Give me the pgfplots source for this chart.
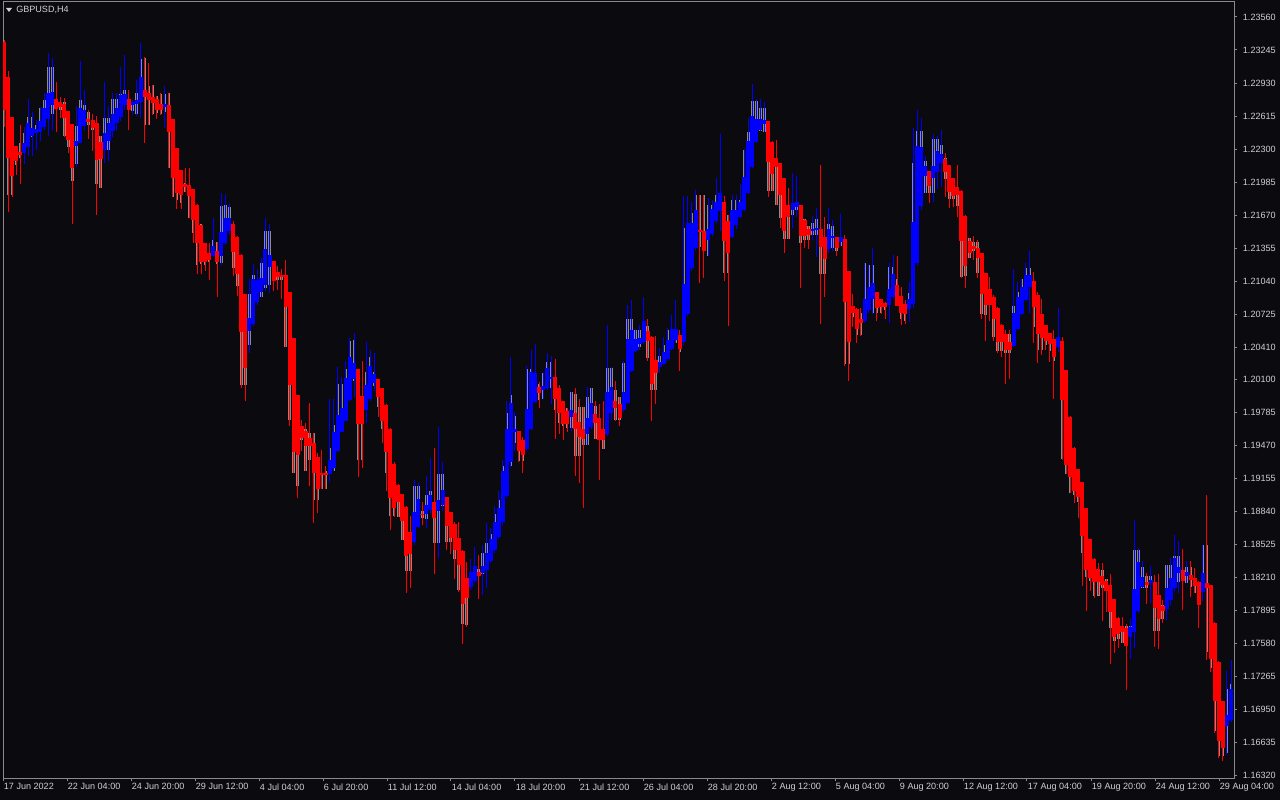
\documentclass[border=0pt]{standalone}
\usepackage{fontspec}
\setmainfont{Liberation Sans}
\usepackage{pgfplots}
\usepackage{pgfplotstable}
\pgfplotsset{compat=1.18}
\definecolor{bg}{HTML}{0B0B0F}
\definecolor{haR}{HTML}{FF0000}
\definecolor{haB}{HTML}{0000FF}
\definecolor{cndl}{HTML}{8C8C8C}
\definecolor{frm}{HTML}{8A8A8A}
\definecolor{txt}{HTML}{D0D0D0}

% k = bar index, o/c = Heiken Ashi open/close, hi/lo = bar high/low, gh/gl = candle body top/bottom
\pgfplotstableread{
k o c hi lo gh gl
0 1.2332 1.2267 1.2334 1.2251 1.2332 1.2265
1 1.2299 1.2221 1.2305 1.2170 1.2299 1.2186
2 1.2261 1.2204 1.2261 1.2184 1.2261 1.2186
3 1.2233 1.2219 1.2233 1.2205 1.2233 1.2215
4 1.2227 1.2224 1.2253 1.2197 1.2236 1.2222
5 1.2226 1.2236 1.2251 1.2216 1.2245 1.2226
6 1.2232 1.2255 1.2278 1.2223 1.2261 1.2232
7 1.2242 1.2250 1.2265 1.2223 1.2261 1.2242
8 1.2245 1.2249 1.2258 1.2229 1.2253 1.2245
9 1.2246 1.2257 1.2270 1.2238 1.2269 1.2246
10 1.2251 1.2269 1.2283 1.2248 1.2277 1.2251
11 1.2259 1.2284 1.2322 1.2242 1.2308 1.2259
12 1.2272 1.2284 1.2317 1.2248 1.2308 1.2264
13 1.2278 1.2268 1.2294 1.2246 1.2278 1.2268
14 1.2275 1.2270 1.2280 1.2260 1.2275 1.2267
15 1.2273 1.2260 1.2279 1.2241 1.2275 1.2243
16 1.2266 1.2239 1.2266 1.2226 1.2266 1.2232
17 1.2254 1.2212 1.2254 1.2159 1.2254 1.2200
18 1.2233 1.2238 1.2271 1.2213 1.2252 1.2216
19 1.2236 1.2269 1.2314 1.2236 1.2277 1.2236
20 1.2252 1.2267 1.2286 1.2248 1.2272 1.2252
21 1.2259 1.2256 1.2267 1.2240 1.2265 1.2253
22 1.2258 1.2250 1.2263 1.2228 1.2258 1.2248
23 1.2255 1.2220 1.2262 1.2167 1.2255 1.2197
24 1.2237 1.2221 1.2243 1.2193 1.2243 1.2193
25 1.2229 1.2245 1.2294 1.2217 1.2260 1.2229
26 1.2238 1.2255 1.2271 1.2219 1.2260 1.2229
27 1.2247 1.2263 1.2283 1.2241 1.2278 1.2247
28 1.2255 1.2269 1.2283 1.2248 1.2278 1.2255
29 1.2261 1.2282 1.2308 1.2257 1.2283 1.2261
30 1.2272 1.2283 1.2320 1.2267 1.2286 1.2272
31 1.2278 1.2267 1.2286 1.2248 1.2278 1.2267
32 1.2272 1.2275 1.2277 1.2264 1.2275 1.2266
33 1.2273 1.2277 1.2296 1.2262 1.2284 1.2264
34 1.2275 1.2299 1.2331 1.2260 1.2316 1.2275
35 1.2286 1.2280 1.2318 1.2236 1.2317 1.2253
36 1.2284 1.2277 1.2312 1.2253 1.2290 1.2253
37 1.2280 1.2274 1.2291 1.2262 1.2291 1.2264
38 1.2278 1.2267 1.2281 1.2259 1.2281 1.2264
39 1.2273 1.2267 1.2283 1.2262 1.2283 1.2264
40 1.2270 1.2273 1.2290 1.2250 1.2283 1.2265
41 1.2272 1.2246 1.2283 1.2212 1.2283 1.2212
42 1.2259 1.2202 1.2259 1.2184 1.2259 1.2184
43 1.2231 1.2188 1.2231 1.2173 1.2231 1.2181
44 1.2210 1.2186 1.2210 1.2173 1.2210 1.2179
45 1.2197 1.2194 1.2212 1.2189 1.2198 1.2189
46 1.2196 1.2185 1.2212 1.2164 1.2196 1.2164
47 1.2192 1.2162 1.2192 1.2140 1.2192 1.2150
48 1.2177 1.2140 1.2178 1.2111 1.2177 1.2119
49 1.2158 1.2122 1.2158 1.2111 1.2158 1.2120
50 1.2140 1.2122 1.2140 1.2114 1.2140 1.2119
51 1.2131 1.2124 1.2140 1.2105 1.2131 1.2122
52 1.2128 1.2138 1.2164 1.2127 1.2143 1.2128
53 1.2133 1.2122 1.2141 1.2089 1.2141 1.2120
54 1.2128 1.2151 1.2188 1.2119 1.2176 1.2121
55 1.2140 1.2164 1.2187 1.2138 1.2177 1.2140
56 1.2152 1.2164 1.2179 1.2148 1.2175 1.2152
57 1.2158 1.2132 1.2161 1.2109 1.2158 1.2116
58 1.2146 1.2111 1.2147 1.2090 1.2146 1.2099
59 1.2129 1.2055 1.2130 1.2002 1.2129 1.2005
60 1.2092 1.2021 1.2092 1.1990 1.2092 1.2005
61 1.2056 1.2069 1.2106 1.2035 1.2092 1.2043
62 1.2063 1.2106 1.2120 1.2061 1.2110 1.2063
63 1.2084 1.2105 1.2116 1.2081 1.2105 1.2084
64 1.2094 1.2107 1.2126 1.2089 1.2121 1.2089
65 1.2100 1.2135 1.2164 1.2095 1.2152 1.2097
66 1.2117 1.2129 1.2159 1.2093 1.2152 1.2100
67 1.2123 1.2104 1.2123 1.2095 1.2123 1.2104
68 1.2113 1.2108 1.2118 1.2095 1.2113 1.2105
69 1.2110 1.2108 1.2116 1.2087 1.2110 1.2105
70 1.2110 1.2079 1.2124 1.2041 1.2110 1.2041
71 1.2094 1.2005 1.2094 1.1966 1.2094 1.1971
72 1.2050 1.1941 1.2050 1.1921 1.2050 1.1921
73 1.1995 1.1938 1.1995 1.1897 1.1995 1.1909
74 1.1966 1.1954 1.1971 1.1942 1.1966 1.1952
75 1.1961 1.1947 1.1969 1.1923 1.1963 1.1923
76 1.1954 1.1947 1.1988 1.1909 1.1959 1.1933
77 1.1950 1.1921 1.1959 1.1873 1.1959 1.1895
78 1.1936 1.1906 1.1940 1.1883 1.1936 1.1895
79 1.1921 1.1919 1.1943 1.1906 1.1921 1.1906
80 1.1921 1.1919 1.1928 1.1906 1.1923 1.1906
81 1.1920 1.1933 1.1992 1.1912 1.1945 1.1920
82 1.1926 1.1960 1.1992 1.1923 1.1967 1.1923
83 1.1942 1.1976 1.2022 1.1941 1.2006 1.1942
84 1.1960 1.1983 1.2012 1.1960 1.2006 1.1960
85 1.1971 1.2012 1.2028 1.1971 1.2020 1.1971
86 1.1991 1.2032 1.2050 1.1990 1.2047 1.1991
87 1.2011 1.2026 1.2054 1.1993 1.2048 1.2009
88 1.2020 1.1968 1.2020 1.1917 1.2020 1.1933
89 1.1994 1.1968 1.2028 1.1926 1.1994 1.1933
90 1.1981 1.2005 1.2046 1.1969 1.2017 1.1981
91 1.1992 1.2023 1.2038 1.1990 1.2032 1.1992
92 1.2007 1.2015 1.2035 1.1999 1.2017 1.2004
93 1.2011 1.1993 1.2011 1.1974 1.2011 1.1984
94 1.2002 1.1971 1.2002 1.1950 1.2002 1.1963
95 1.1986 1.1941 1.1987 1.1904 1.1986 1.1921
96 1.1963 1.1897 1.1964 1.1866 1.1963 1.1880
97 1.1930 1.1888 1.1931 1.1879 1.1930 1.1880
98 1.1909 1.1893 1.1910 1.1879 1.1909 1.1879
99 1.1901 1.1875 1.1901 1.1857 1.1901 1.1857
100 1.1888 1.1842 1.1889 1.1806 1.1888 1.1827
101 1.1865 1.1844 1.1880 1.1811 1.1865 1.1827
102 1.1855 1.1884 1.1914 1.1852 1.1909 1.1855
103 1.1869 1.1896 1.1911 1.1868 1.1909 1.1869
104 1.1882 1.1881 1.1893 1.1871 1.1885 1.1878
105 1.1882 1.1890 1.1918 1.1868 1.1900 1.1877
106 1.1886 1.1900 1.1935 1.1883 1.1904 1.1886
107 1.1893 1.1878 1.1945 1.1825 1.1893 1.1854
108 1.1885 1.1895 1.1965 1.1840 1.1920 1.1854
109 1.1890 1.1905 1.1931 1.1885 1.1920 1.1889
110 1.1898 1.1870 1.1898 1.1847 1.1898 1.1855
111 1.1884 1.1859 1.1884 1.1844 1.1884 1.1855
112 1.1872 1.1847 1.1874 1.1820 1.1872 1.1839
113 1.1859 1.1833 1.1874 1.1807 1.1859 1.1809
114 1.1846 1.1796 1.1847 1.1758 1.1846 1.1777
115 1.1821 1.1802 1.1836 1.1774 1.1821 1.1776
116 1.1812 1.1826 1.1839 1.1809 1.1826 1.1812
117 1.1818 1.1832 1.1850 1.1816 1.1832 1.1818
118 1.1826 1.1823 1.1843 1.1801 1.1829 1.1823
119 1.1825 1.1832 1.1852 1.1804 1.1845 1.1825
120 1.1828 1.1845 1.1873 1.1811 1.1854 1.1828
121 1.1837 1.1858 1.1868 1.1835 1.1863 1.1837
122 1.1847 1.1874 1.1889 1.1845 1.1882 1.1847
123 1.1860 1.1887 1.1904 1.1858 1.1895 1.1860
124 1.1874 1.1923 1.1933 1.1871 1.1928 1.1874
125 1.1899 1.1963 1.1990 1.1897 1.1978 1.1899
126 1.1931 1.1988 1.2032 1.1927 1.1995 1.1928
127 1.1960 1.1963 1.1979 1.1942 1.1975 1.1949
128 1.1961 1.1942 1.1961 1.1931 1.1961 1.1932
129 1.1952 1.1938 1.1955 1.1921 1.1952 1.1932
130 1.1944 1.1982 1.2023 1.1942 1.2020 1.1944
131 1.1963 1.2017 1.2038 1.1962 1.2020 1.1963
132 1.1989 1.2016 1.2044 1.1988 1.2016 1.1989
133 1.2003 1.1997 1.2008 1.1983 1.2006 1.1991
134 1.2000 1.2004 1.2016 1.1991 1.2016 1.1991
135 1.2002 1.2021 1.2035 1.2000 1.2027 1.2002
136 1.2011 1.2013 1.2033 1.1987 1.2027 1.2002
137 1.2012 1.1991 1.2030 1.1953 1.2012 1.1981
138 1.2002 1.1978 1.2005 1.1958 1.2002 1.1969
139 1.1990 1.1968 1.1990 1.1952 1.1990 1.1966
140 1.1980 1.1968 1.1983 1.1960 1.1983 1.1964
141 1.1974 1.1981 1.1998 1.1961 1.1998 1.1964
142 1.1978 1.1963 1.2002 1.1918 1.1996 1.1937
143 1.1970 1.1955 1.1991 1.1911 1.1984 1.1937
144 1.1963 1.1953 1.1984 1.1888 1.1984 1.1948
145 1.1958 1.1973 1.2003 1.1948 1.1993 1.1948
146 1.1965 1.1988 1.2002 1.1963 1.2002 1.1965
147 1.1977 1.1969 1.1990 1.1953 1.1985 1.1953
148 1.1973 1.1952 1.1987 1.1914 1.1973 1.1952
149 1.1963 1.1952 1.1990 1.1944 1.1963 1.1944
150 1.1958 1.1998 1.2062 1.1956 1.2021 1.1958
151 1.1978 1.2003 1.2022 1.1971 1.2021 1.1978
152 1.1990 1.1983 1.2009 1.1971 1.2000 1.1971
153 1.1987 1.1973 1.1993 1.1966 1.1993 1.1971
154 1.1981 1.1998 1.2028 1.1979 1.2026 1.1981
155 1.1988 1.2049 1.2081 1.1987 1.2068 1.1988
156 1.2018 1.2057 1.2086 1.2017 1.2068 1.2018
157 1.2037 1.2049 1.2058 1.2036 1.2057 1.2037
158 1.2044 1.2050 1.2062 1.2038 1.2057 1.2041
159 1.2046 1.2066 1.2089 1.2044 1.2066 1.2046
160 1.2056 1.2047 1.2068 1.2028 1.2061 1.2031
161 1.2051 1.2006 1.2052 1.1971 1.2051 1.2000
162 1.2029 1.2016 1.2052 1.1987 1.2029 1.2000
163 1.2022 1.2027 1.2040 1.2016 1.2033 1.2022
164 1.2025 1.2036 1.2051 1.2024 1.2043 1.2025
165 1.2030 1.2048 1.2059 1.2028 1.2057 1.2030
166 1.2039 1.2058 1.2072 1.2038 1.2058 1.2039
167 1.2048 1.2058 1.2086 1.2045 1.2058 1.2045
168 1.2053 1.2039 1.2057 1.2018 1.2053 1.2036
169 1.2046 1.2101 1.2185 1.2043 1.2155 1.2046
170 1.2073 1.2159 1.2185 1.2071 1.2159 1.2073
171 1.2116 1.2159 1.2179 1.2114 1.2169 1.2116
172 1.2136 1.2172 1.2191 1.2134 1.2186 1.2136
173 1.2153 1.2151 1.2186 1.2102 1.2186 1.2137
174 1.2152 1.2133 1.2186 1.2107 1.2186 1.2133
175 1.2143 1.2154 1.2183 1.2128 1.2177 1.2128
176 1.2149 1.2173 1.2181 1.2147 1.2177 1.2149
177 1.2161 1.2180 1.2202 1.2159 1.2186 1.2161
178 1.2171 1.2188 1.2244 1.2152 1.2188 1.2171
179 1.2179 1.2142 1.2185 1.2104 1.2179 1.2112
180 1.2161 1.2131 1.2167 1.2061 1.2167 1.2112
181 1.2146 1.2172 1.2186 1.2145 1.2181 1.2146
182 1.2158 1.2172 1.2186 1.2154 1.2181 1.2158
183 1.2165 1.2179 1.2197 1.2164 1.2181 1.2165
184 1.2172 1.2203 1.2230 1.2171 1.2229 1.2172
185 1.2188 1.2238 1.2260 1.2187 1.2246 1.2188
186 1.2213 1.2262 1.2292 1.2212 1.2276 1.2213
187 1.2237 1.2259 1.2278 1.2236 1.2276 1.2237
188 1.2248 1.2259 1.2278 1.2247 1.2269 1.2247
189 1.2254 1.2258 1.2275 1.2246 1.2269 1.2246
190 1.2257 1.2218 1.2257 1.2184 1.2257 1.2190
191 1.2237 1.2206 1.2238 1.2190 1.2237 1.2190
192 1.2222 1.2213 1.2239 1.2177 1.2222 1.2177
193 1.2217 1.2186 1.2217 1.2155 1.2217 1.2164
194 1.2202 1.2152 1.2202 1.2131 1.2202 1.2144
195 1.2177 1.2165 1.2193 1.2144 1.2177 1.2144
196 1.2172 1.2179 1.2207 1.2155 1.2179 1.2167
197 1.2175 1.2180 1.2204 1.2165 1.2180 1.2172
198 1.2177 1.2147 1.2177 1.2097 1.2177 1.2140
199 1.2162 1.2147 1.2163 1.2136 1.2163 1.2143
200 1.2154 1.2148 1.2157 1.2135 1.2157 1.2143
201 1.2152 1.2154 1.2166 1.2143 1.2159 1.2148
202 1.2153 1.2155 1.2174 1.2127 1.2163 1.2148
203 1.2154 1.2137 1.2215 1.2063 1.2154 1.2111
204 1.2146 1.2125 1.2165 1.2089 1.2146 1.2111
205 1.2135 1.2154 1.2174 1.2131 1.2158 1.2135
206 1.2145 1.2147 1.2162 1.2133 1.2157 1.2136
207 1.2146 1.2136 1.2146 1.2128 1.2146 1.2133
208 1.2141 1.2146 1.2168 1.2138 1.2146 1.2138
209 1.2144 1.2084 1.2148 1.2023 1.2144 1.2025
210 1.2114 1.2046 1.2114 1.2009 1.2114 1.2025
211 1.2080 1.2074 1.2092 1.2060 1.2080 1.2070
212 1.2077 1.2058 1.2078 1.2045 1.2077 1.2053
213 1.2068 1.2064 1.2078 1.2052 1.2074 1.2053
214 1.2066 1.2087 1.2121 1.2064 1.2121 1.2066
215 1.2076 1.2098 1.2119 1.2074 1.2119 1.2076
216 1.2087 1.2102 1.2136 1.2073 1.2119 1.2074
217 1.2094 1.2078 1.2094 1.2066 1.2094 1.2074
218 1.2087 1.2079 1.2087 1.2073 1.2087 1.2074
219 1.2083 1.2079 1.2084 1.2068 1.2083 1.2076
220 1.2081 1.2096 1.2121 1.2064 1.2117 1.2081
221 1.2089 1.2111 1.2129 1.2087 1.2117 1.2089
222 1.2100 1.2080 1.2128 1.2080 1.2106 1.2080
223 1.2090 1.2074 1.2098 1.2062 1.2090 1.2068
224 1.2082 1.2073 1.2086 1.2063 1.2082 1.2066
225 1.2077 1.2087 1.2103 1.2065 1.2093 1.2077
226 1.2082 1.2160 1.2250 1.2078 1.2217 1.2082
227 1.2121 1.2233 1.2267 1.2119 1.2247 1.2121
228 1.2176 1.2232 1.2260 1.2172 1.2247 1.2176
229 1.2204 1.2214 1.2223 1.2188 1.2219 1.2188
230 1.2209 1.2195 1.2209 1.2179 1.2209 1.2188
231 1.2202 1.2214 1.2244 1.2179 1.2240 1.2188
232 1.2208 1.2228 1.2243 1.2192 1.2240 1.2208
233 1.2217 1.2225 1.2248 1.2194 1.2234 1.2217
234 1.2221 1.2208 1.2226 1.2184 1.2221 1.2201
235 1.2215 1.2189 1.2215 1.2174 1.2215 1.2182
236 1.2202 1.2185 1.2202 1.2175 1.2202 1.2182
237 1.2194 1.2186 1.2215 1.2165 1.2194 1.2176
238 1.2190 1.2142 1.2191 1.2107 1.2190 1.2108
239 1.2166 1.2118 1.2167 1.2097 1.2166 1.2109
240 1.2142 1.2131 1.2145 1.2126 1.2145 1.2126
241 1.2137 1.2135 1.2147 1.2124 1.2141 1.2133
242 1.2136 1.2126 1.2143 1.2107 1.2141 1.2112
243 1.2131 1.2092 1.2131 1.2068 1.2131 1.2073
244 1.2112 1.2081 1.2112 1.2047 1.2112 1.2072
245 1.2096 1.2081 1.2108 1.2066 1.2096 1.2081
246 1.2089 1.2068 1.2091 1.2047 1.2089 1.2051
247 1.2078 1.2046 1.2079 1.2035 1.2078 1.2037
248 1.2062 1.2046 1.2063 1.2032 1.2062 1.2037
249 1.2054 1.2038 1.2057 1.2006 1.2054 1.2035
250 1.2046 1.2038 1.2057 1.2011 1.2054 1.2035
251 1.2042 1.2074 1.2116 1.2041 1.2080 1.2042
252 1.2058 1.2089 1.2103 1.2057 1.2094 1.2058
253 1.2073 1.2098 1.2106 1.2072 1.2106 1.2073
254 1.2086 1.2110 1.2121 1.2085 1.2117 1.2086
255 1.2098 1.2110 1.2133 1.2074 1.2117 1.2098
256 1.2104 1.2079 1.2113 1.2045 1.2104 1.2060
257 1.2091 1.2054 1.2094 1.2026 1.2091 1.2038
258 1.2073 1.2050 1.2087 1.2033 1.2073 1.2038
259 1.2062 1.2047 1.2062 1.2038 1.2062 1.2043
260 1.2055 1.2044 1.2055 1.2027 1.2055 1.2037
261 1.2049 1.2032 1.2057 1.1991 1.2049 1.2028
262 1.2041 1.2051 1.2078 1.2036 1.2051 1.2041
263 1.2047 1.1991 1.2051 1.1933 1.2047 1.1934
264 1.2019 1.1929 1.2019 1.1920 1.2019 1.1920
265 1.1974 1.1917 1.1975 1.1902 1.1974 1.1902
266 1.1945 1.1904 1.1946 1.1892 1.1945 1.1900
267 1.1925 1.1898 1.1925 1.1878 1.1925 1.1893
268 1.1912 1.1861 1.1912 1.1813 1.1912 1.1845
269 1.1887 1.1828 1.1887 1.1789 1.1887 1.1822
270 1.1858 1.1821 1.1858 1.1808 1.1858 1.1818
271 1.1839 1.1817 1.1840 1.1802 1.1839 1.1804
272 1.1829 1.1817 1.1835 1.1804 1.1829 1.1804
273 1.1823 1.1814 1.1835 1.1780 1.1828 1.1811
274 1.1818 1.1808 1.1820 1.1788 1.1820 1.1808
275 1.1814 1.1788 1.1825 1.1739 1.1814 1.1773
276 1.1801 1.1764 1.1801 1.1749 1.1801 1.1761
277 1.1783 1.1767 1.1783 1.1754 1.1783 1.1763
278 1.1775 1.1769 1.1783 1.1759 1.1775 1.1759
279 1.1773 1.1756 1.1777 1.1714 1.1775 1.1756
280 1.1764 1.1774 1.1782 1.1743 1.1775 1.1764
281 1.1769 1.1810 1.1876 1.1754 1.1847 1.1769
282 1.1789 1.1836 1.1849 1.1787 1.1847 1.1789
283 1.1812 1.1822 1.1837 1.1811 1.1831 1.1811
284 1.1817 1.1814 1.1826 1.1796 1.1823 1.1811
285 1.1816 1.1819 1.1832 1.1797 1.1823 1.1816
286 1.1817 1.1792 1.1824 1.1755 1.1817 1.1770
287 1.1805 1.1782 1.1824 1.1753 1.1805 1.1770
288 1.1794 1.1789 1.1800 1.1778 1.1795 1.1782
289 1.1791 1.1811 1.1833 1.1781 1.1833 1.1791
290 1.1800 1.1821 1.1840 1.1795 1.1833 1.1800
291 1.1811 1.1840 1.1862 1.1808 1.1842 1.1811
292 1.1825 1.1831 1.1856 1.1806 1.1842 1.1817
293 1.1828 1.1818 1.1848 1.1790 1.1828 1.1818
294 1.1823 1.1826 1.1837 1.1816 1.1831 1.1816
295 1.1824 1.1819 1.1837 1.1803 1.1831 1.1812
296 1.1821 1.1813 1.1830 1.1806 1.1821 1.1806
297 1.1817 1.1795 1.1818 1.1773 1.1817 1.1795
298 1.1807 1.1826 1.1852 1.1799 1.1852 1.1807
299 1.1816 1.1811 1.1900 1.1742 1.1852 1.1750
300 1.1814 1.1743 1.1814 1.1731 1.1814 1.1735
301 1.1778 1.1703 1.1779 1.1673 1.1778 1.1675
302 1.1741 1.1665 1.1741 1.1649 1.1741 1.1651
303 1.1703 1.1658 1.1703 1.1646 1.1703 1.1651
304 1.1680 1.1690 1.1732 1.1652 1.1715 1.1654
305 1.1685 1.1715 1.1742 1.1683 1.1720 1.1685
}\ha

\begin{document}
\begin{tikzpicture}
\fill[bg] (0,0) rectangle (960pt,600pt);
\begin{axis}[
  at={(2.25pt,16.5pt)}, anchor=south west,
  scale only axis, width=923.25pt, height=582pt,
  xmin=-0.25, xmax=305.75, ymin=1.16298, ymax=1.23703,
  axis line style={frm, line width=0.75pt},
  tick align=outside, major tick length=2.5pt,
  tick style={frm, line width=0.75pt},
  ytick pos=right, xtick pos=bottom,
  ytick={1.16320,1.16635,1.16950,1.17265,1.17580,1.17895,1.18210,1.18525,1.18840,1.19155,1.19470,1.19785,1.20100,1.20410,1.20725,1.21040,1.21355,1.21670,1.21985,1.22300,1.22615,1.22930,1.23245,1.23560},
  yticklabels={1.16320,1.16635,1.16950,1.17265,1.17580,1.17895,1.18210,1.18525,1.18840,1.19155,1.19470,1.19785,1.20100,1.20410,1.20725,1.21040,1.21355,1.21670,1.21985,1.22300,1.22615,1.22930,1.23245,1.23560},
  xtick={-0.25,15.66,31.57,47.48,63.39,79.30,95.21,111.11,127.02,142.93,158.84,174.75,190.66,206.57,222.48,238.39,254.29,270.20,286.11,302.02},
  xticklabels={17 Jun 2022,22 Jun 04:00,24 Jun 20:00,29 Jun 12:00,4 Jul 04:00,6 Jul 20:00,11 Jul 12:00,14 Jul 04:00,18 Jul 20:00,21 Jul 12:00,26 Jul 04:00,28 Jul 20:00,2 Aug 12:00,5 Aug 04:00,9 Aug 20:00,12 Aug 12:00,17 Aug 04:00,19 Aug 20:00,24 Aug 12:00,29 Aug 04:00},
  yticklabel style={font=\fontsize{6.8}{8}\selectfont, text=txt, anchor=west, inner sep=0pt, xshift=4pt},
  xticklabel style={font=\fontsize{6.8}{8}\selectfont, text=txt, anchor=north west, inner sep=0pt, xshift=0.5pt, yshift=-1.5pt},
  clip=true,
]
% grey candle bodies
\addplot[draw=none, mark=none, forget plot, error bars/.cd, y dir=both, y explicit, error mark=none,
  error bar style={draw=cndl, line width=1.9pt}]
  table[x=k, y expr=(\thisrow{gh}+\thisrow{gl})/2, y error expr=(\thisrow{gh}-\thisrow{gl})/2]{\ha};
% wicks
\addplot[draw=none, mark=none, forget plot, restrict expr to domain={\thisrow{c}-\thisrow{o}}{0:1},
  error bars/.cd, y dir=both, y explicit, error mark=none, error bar style={draw=haB, line width=0.75pt}]
  table[x=k, y expr=(\thisrow{hi}+\thisrow{lo})/2, y error expr=(\thisrow{hi}-\thisrow{lo})/2]{\ha};
\addplot[draw=none, mark=none, forget plot, restrict expr to domain={\thisrow{c}-\thisrow{o}}{-1:0},
  error bars/.cd, y dir=both, y explicit, error mark=none, error bar style={draw=haR, line width=0.75pt}]
  table[x=k, y expr=(\thisrow{hi}+\thisrow{lo})/2, y error expr=(\thisrow{hi}-\thisrow{lo})/2]{\ha};
% Heiken Ashi bodies
\addplot[draw=none, mark=none, forget plot, restrict expr to domain={\thisrow{c}-\thisrow{o}}{0:1},
  error bars/.cd, y dir=both, y explicit, error mark=none, error bar style={draw=haB, line width=3pt}]
  table[x=k, y expr=(\thisrow{o}+\thisrow{c})/2, y error expr=abs(\thisrow{o}-\thisrow{c})/2]{\ha};
\addplot[draw=none, mark=none, forget plot, restrict expr to domain={\thisrow{c}-\thisrow{o}}{-1:0},
  error bars/.cd, y dir=both, y explicit, error mark=none, error bar style={draw=haR, line width=3pt}]
  table[x=k, y expr=(\thisrow{o}+\thisrow{c})/2, y error expr=abs(\thisrow{o}-\thisrow{c})/2]{\ha};
\end{axis}
\fill[txt] (4.5pt,594pt) -- (9pt,594pt) -- (6.75pt,591pt) -- cycle;
\node[anchor=west, inner sep=0pt, text=txt, font=\fontsize{6.8}{8}\selectfont] at (12pt,592.5pt) {GBPUSD,H4};
\end{tikzpicture}
\end{document}
